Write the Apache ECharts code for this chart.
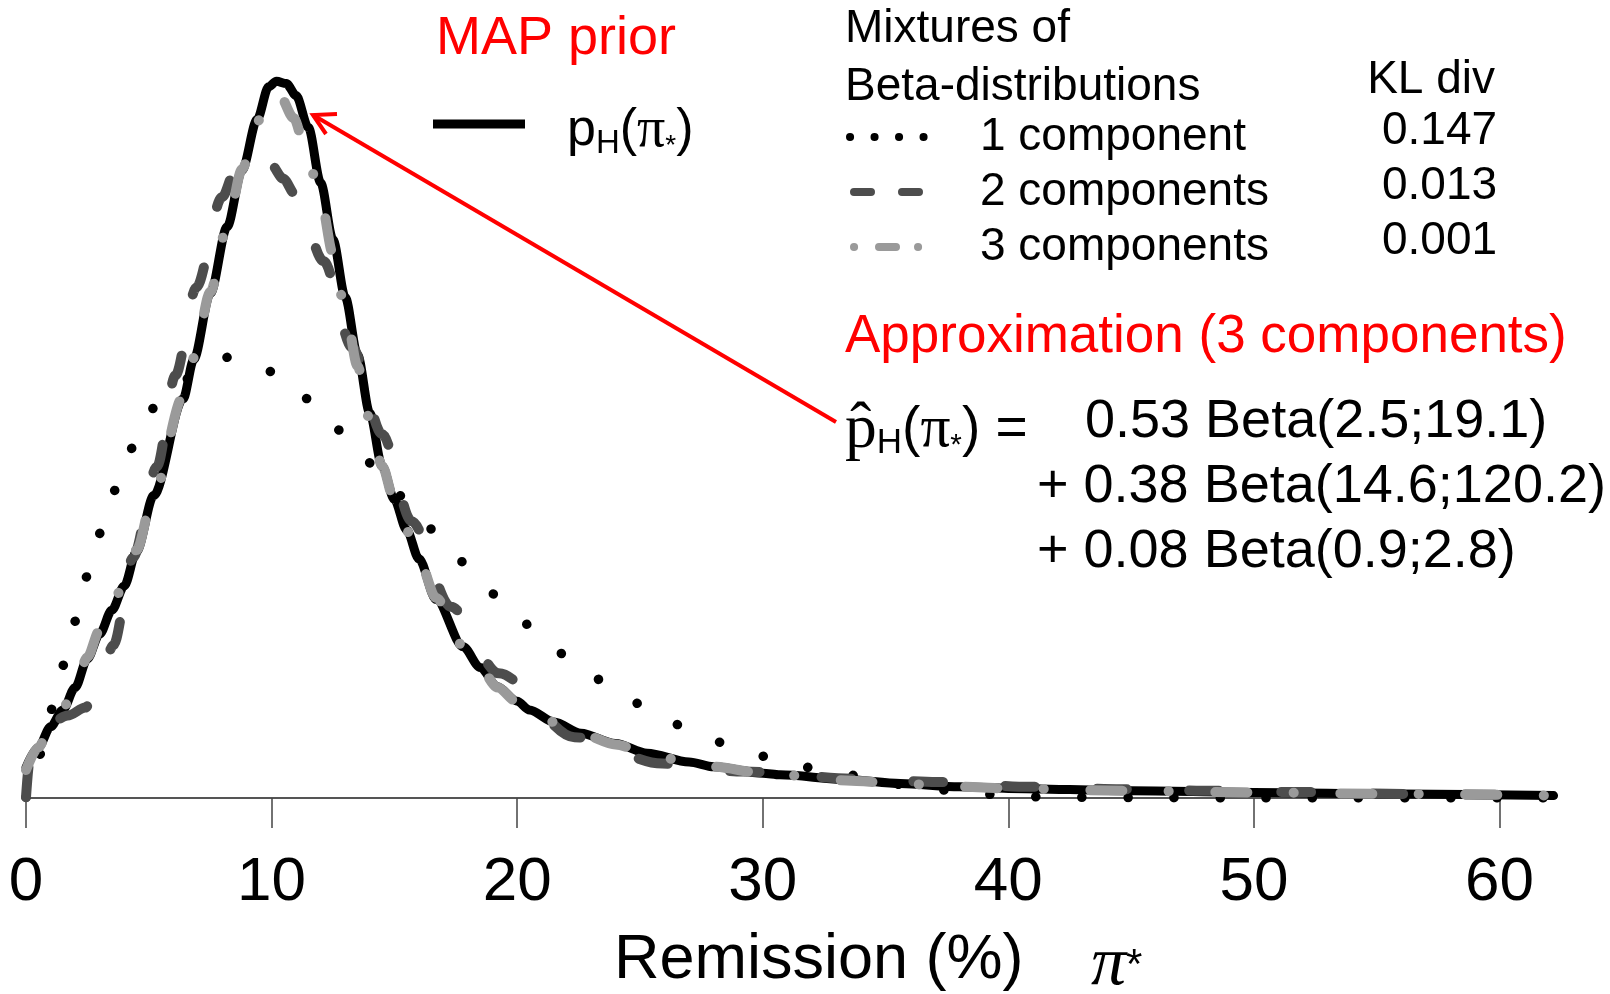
<!DOCTYPE html>
<html>
<head>
<meta charset="utf-8">
<title>MAP prior and Beta mixture approximations</title>
<script src="https://cdn.jsdelivr.net/npm/echarts@6/dist/echarts.min.js"></script>
<style>
  html, body { margin: 0; padding: 0; background: #fff; }
  #chart { width: 1610px; height: 994px; }
</style>
</head>
<body>
<div id="chart"></div>
<script>
// remission rate pi* (%) against density
const xTicks = [0, 10, 20, 30, 40, 50, 60];

const mapPrior = [
  [0, 0.38], [0.5, 0.63], [1, 0.89], [1.5, 1.1], [2, 1.38], [2.5, 1.74], [3, 2.05], [3.5, 2.35],
  [4, 2.65], [4.5, 3.08], [5.2, 3.78], [6.4, 4.99], [6.83, 5.48], [7.51, 6.31], [8.19, 7.14],
  [8.8, 7.85], [9.41, 8.48], [9.88, 8.89], [10.2, 8.96], [10.6, 8.93], [11, 8.78], [11.5, 8.38],
  [12, 7.69], [12.5, 6.98], [13, 6.26], [13.5, 5.54], [14, 4.81], [14.5, 4.15], [15, 3.73],
  [15.5, 3.35], [16, 2.99], [16.7, 2.48], [17.8, 1.89], [18.5, 1.63], [19.2, 1.39], [20, 1.21],
  [20.5, 1.1], [21.5, 0.95], [22.6, 0.81], [24, 0.68], [25.3, 0.56], [27, 0.45], [28, 0.39],
  [30, 0.31], [30.7, 0.29], [33.4, 0.23], [35.6, 0.18], [38, 0.14], [40, 0.12], [45, 0.09],
  [50, 0.07], [56, 0.05], [62.2, 0.03]
];

const oneComp = [
  [0, 0.01], [0.5, 0.51], [1.06, 1.11], [1.53, 1.66], [2.01, 2.21], [2.51, 2.78], [3.05, 3.32],
  [3.67, 3.86], [4.38, 4.39], [5.27, 4.89], [6.7, 5.25], [7.5, 5.43], [8.25, 5.51], [9.1, 5.45],
  [10, 5.33], [11.5, 4.99], [12.85, 4.59], [14.1, 4.18], [15.4, 3.76], [16.7, 3.33], [18, 2.91],
  [19.3, 2.5], [20.7, 2.12], [22.1, 1.76], [23.7, 1.43], [25.3, 1.13], [26.9, 0.88], [28.7, 0.66],
  [30.5, 0.49], [32.3, 0.36], [34.1, 0.27], [36, 0.15], [37.8, 0.09], [39.6, 0.04], [41.6, 0.01],
  [45, 0.005], [50, 0], [62.2, 0]
];

const twoComp = [
  [0, 0.01], [0.15, 0.48], [0.5, 0.75], [1, 0.94], [1.7, 1.03], [2.42, 1.13], [2.9, 1.38],
  [3.56, 1.91], [4.35, 3], [5.33, 4.14], [6.08, 5.28], [6.93, 6.38], [7.98, 7.51], [8.6, 7.91],
  [9.1, 8.03], [9.95, 7.93], [10.48, 7.74], [10.97, 7.54], [12.12, 6.71], [13.28, 5.63],
  [14.5, 4.55], [15.7, 3.46], [17.3, 2.39], [19.25, 1.56], [22.33, 0.76], [25.9, 0.43],
  [29.2, 0.33], [33.85, 0.24], [37.1, 0.2], [40.9, 0.14], [44.6, 0.11], [48.4, 0.09],
  [51.7, 0.075], [56.3, 0.05], [59.9, 0.04], [62.2, 0.03]
];

const threeComp = [
  [0, 0.35], [0.5, 0.63], [1, 0.9], [1.5, 1.12], [2, 1.4], [2.5, 1.76], [3, 2.1], [3.5, 2.4],
  [4, 2.7], [4.5, 3.1], [5.2, 3.8], [6.4, 5.02], [6.83, 5.5], [7.51, 6.33], [8.19, 7.15],
  [8.8, 7.86], [9.41, 8.45], [9.88, 8.76], [10.3, 8.8], [10.9, 8.5], [11.4, 8.1], [12, 7.48],
  [12.5, 6.8], [13, 6.1], [13.5, 5.4], [14, 4.73], [14.5, 4.15], [15, 3.72], [15.5, 3.34],
  [16, 2.98], [16.7, 2.5], [17.8, 1.9], [18.5, 1.62], [19.2, 1.38], [20, 1.2], [20.5, 1.1],
  [21.5, 0.95], [22.6, 0.8], [24, 0.67], [25.3, 0.56], [27, 0.44], [28, 0.39], [30, 0.31],
  [30.7, 0.29], [33.4, 0.22], [35.6, 0.18], [38, 0.14], [40, 0.12], [45, 0.09], [50, 0.07],
  [56, 0.05], [62.2, 0.03]
];

const mixLabels = ["1 component", "2 components", "3 components"];
const klDiv = ["0.147", "0.013", "0.001"];
const approxRows = ["0.53 Beta(2.5;19.1)", "+ 0.38 Beta(14.6;120.2)", "+ 0.08 Beta(0.9;2.8)"];

const SANS = '"Liberation Sans", Arial, sans-serif';
const SERIF = '"Liberation Serif", "Times New Roman", serif';
const RED = "#ff0000";
const DARK = "#4d4d4d";
const LIGHT = "#9a9a9a";

const chart = echarts.init(document.getElementById("chart"));

function curve(name, data, color, width, dash, z) {
  return {
    name,
    type: "line",
    data,
    symbol: "none",
    smooth: 0.3,
    smoothMonotone: "x",
    z,
    silent: true,
    lineStyle: { color, width, type: dash, cap: "round", join: "round" },
  };
}

function txt(x, y, text, size, opts = {}) {
  return {
    type: "text",
    x,
    y,
    silent: true,
    style: {
      text,
      font: `${opts.style || ""} ${size}px ${opts.family || SANS}`,
      fill: opts.fill || "#000",
      align: opts.align || "left",
      verticalAlign: "middle",
      rich: opts.rich,
    },
  };
}

function sample(x1, x2, y, color, width, dash, cap) {
  return {
    type: "line",
    silent: true,
    shape: { x1, y1: y, x2, y2: y },
    style: { stroke: color, lineWidth: width, lineDash: dash, lineCap: cap || "round" },
  };
}

// p_H(pi*) in the legend and p-hat_H(pi*) in the formula
function piRich(k) {
  return {
    m: { fontSize: 52 * k, fontFamily: SANS, lineHeight: 58 * k, fill: "#000" },
    s: { fontSize: 33 * k, fontFamily: SANS, lineHeight: 33 * k, verticalAlign: "bottom", fill: "#000" },
    g: { fontSize: 56 * k, fontFamily: SERIF, lineHeight: 58 * k, fill: "#000" },
    t: { fontSize: 28 * k, fontFamily: SANS, lineHeight: 42 * k, verticalAlign: "bottom", fill: "#000" },
    h: { fontSize: 60 * k, fontFamily: SERIF, lineHeight: 58 * k, fill: "#000" },
  };
}

const graphics = [
  txt(556, 39, "MAP prior", 54, { fill: RED, align: "center" }),
  sample(433, 525, 124, "#000", 9, null, "butt"),
  txt(567, 131, "{m|p}{s|H}{m|(}{g|π}{t|*}{m|)}", 52, { rich: piRich(1) }),

  txt(845, 29, "Mixtures of", 46),
  txt(845, 87, "Beta-distributions", 46),
  txt(1495, 80, "KL div", 46, { align: "right" }),
  sample(850, 924, 137, "#000", 8, [0.1, 24.4]),
  sample(854, 919, 192, DARK, 8, [17, 31]),
  sample(854, 919, 247, LIGHT, 8, [0.1, 24.9, 17, 22, 0.1, 100]),
  ...mixLabels.map((t, i) => txt(980, 137.5 + i * 55, t, 46)),
  ...klDiv.map((t, i) => txt(1382, 131.5 + i * 55, t, 46)),

  txt(845, 337, "Approximation (3 components)", 53, { fill: RED }),
  txt(845, 430, "{h|p\u0302}{s|H}{m|(}{g|π}{t|*}{m|) =}", 54, { rich: piRich(1.06) }),
  txt(1085, 422, approxRows[0], 54),
  txt(1037, 487, approxRows[1], 54),
  txt(1037, 552, approxRows[2], 54),

  {
    type: "polyline",
    silent: true,
    shape: { points: [[836, 422], [313, 115]] },
    style: { stroke: RED, lineWidth: 4, fill: null },
  },
  {
    type: "polyline",
    silent: true,
    shape: { points: [[337, 114], [313, 115], [326, 134]] },
    style: { stroke: RED, lineWidth: 4, fill: null, lineJoin: "miter" },
  },

  txt(614, 961, "Remission (%)", 63),
  txt(1091, 966, "{p|π}{a|*}", 68, {
    rich: {
      p: { fontSize: 70, fontFamily: SERIF, fontStyle: "italic", fill: "#000" },
      a: { fontSize: 42, fontFamily: SANS, fill: "#000" },
    },
  }),
];

chart.setOption({
  animation: false,
  backgroundColor: "#fff",
  grid: { left: 26, right: 54, top: 38, bottom: 196, containLabel: false },
  xAxis: {
    type: "value",
    min: 0,
    max: 62.3,
    interval: 10,
    axisLine: { show: true, onZero: false, lineStyle: { color: "#555", width: 2 } },
    axisTick: { show: true, length: 30, customValues: xTicks, lineStyle: { color: "#444", width: 1.5 } },
    axisLabel: {
      customValues: xTicks,
      margin: 54,
      fontSize: 62,
      lineHeight: 62,
      fontFamily: SANS,
      color: "#000",
    },
    splitLine: { show: false },
  },
  yAxis: { type: "value", min: 0, max: 9.5, show: false },
  series: [
    curve("1 component", oneComp, "#000", 9.5, [0.1, 46], 1),
    curve("MAP prior", mapPrior, "#000", 9, "solid", 2),
    curve("2 components", twoComp, DARK, 10, [30, 62], 3),
    curve("3 components", threeComp, LIGHT, 10, [32, 46.5, 0.1, 46.4], 4),
  ],
  graphic: { elements: graphics },
});

window.addEventListener("resize", () => chart.resize());
</script>
</body>
</html>
